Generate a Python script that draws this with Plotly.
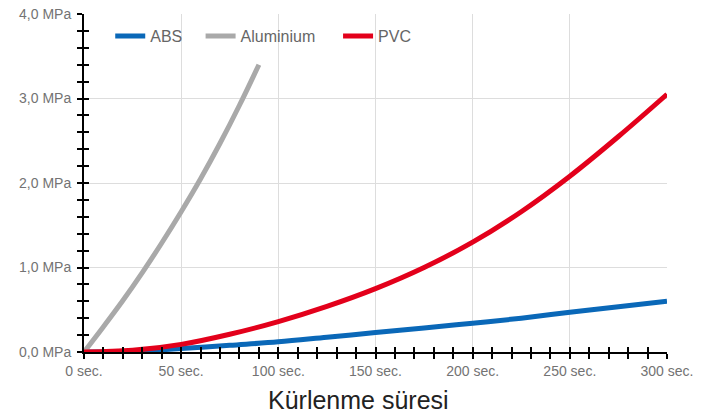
import plotly.graph_objects as go

# Data
t_alu = [0, 10, 20, 30, 40, 50, 60, 70, 80, 90]
alu = [0, 0.30, 0.61, 0.94, 1.29, 1.66, 2.05, 2.47, 2.92, 3.40]

t_long = [0, 25, 50, 75, 100, 125, 150, 175, 200, 225, 250, 275, 300]
pvc = [0, 0.02, 0.09, 0.21, 0.36, 0.54, 0.75, 1.00, 1.30, 1.66, 2.08, 2.55, 3.05]
abs_ = [0, 0.01, 0.04, 0.08, 0.12, 0.175, 0.23, 0.285, 0.34, 0.40, 0.47, 0.535, 0.60]

x_ticks = [0, 50, 100, 150, 200, 250, 300]
x_labels = ["0 sec.", "50 sec.", "100 sec.", "150 sec.", "200 sec.", "250 sec.", "300 sec."]
y_ticks = [0, 1, 2, 3, 4]
y_labels = ["0,0 MPa", "1,0 MPa", "2,0 MPa", "3,0 MPa", "4,0 MPa"]

FONT = "Liberation Sans, Arial, Helvetica, sans-serif"
NB = "\u00a0"

fig = go.Figure()
fig.add_trace(go.Scatter(x=t_long, y=abs_, name="ABS" + NB * 3, mode="lines",
                         line=dict(color="#0A68B8", width=5, shape="spline")))
fig.add_trace(go.Scatter(x=t_alu, y=alu, name="Aluminium" + NB * 4, mode="lines",
                         line=dict(color="#A9A9A9", width=5, shape="spline")))
fig.add_trace(go.Scatter(x=t_long, y=pvc, name="PVC", mode="lines",
                         line=dict(color="#E3001B", width=5, shape="spline")))
# invisible trace for overlay axes (crossing ticks)
fig.add_trace(go.Scatter(x=[0], y=[0], xaxis="x2", yaxis="y2", mode="markers",
                         marker=dict(opacity=0), showlegend=False, hoverinfo="skip"))

axis_common = dict(showline=True, linecolor="black", linewidth=2, automargin=False,
                   tickcolor="black", tickwidth=2, ticklen=5, zeroline=False)

fig.update_layout(
    width=711, height=414,
    margin=dict(l=84, r=44, t=14, b=62),
    paper_bgcolor="white", plot_bgcolor="white",
    font=dict(family=FONT, color="#737373", size=14),
    showlegend=True,
    legend=dict(orientation="h", x=0.045, y=0.985, xanchor="left", yanchor="top",
                bgcolor="rgba(0,0,0,0)", font=dict(size=16, color="#666666"),
                itemwidth=30, tracegroupgap=0),
    xaxis=dict(range=[0, 300], tickvals=x_ticks, ticktext=x_labels,
               ticks="outside", showgrid=True, gridcolor="#DDDDDD", gridwidth=1,
               minor=dict(dtick=10, ticks="outside", ticklen=5, tickwidth=2, tickcolor="black", showgrid=False),
               **axis_common),
    yaxis=dict(range=[0, 4], tickvals=y_ticks, ticktext=y_labels, ticklabelstandoff=3,
               ticks="outside", showgrid=True, gridcolor="#DDDDDD", gridwidth=1,
               minor=dict(dtick=0.2, ticks="outside", ticklen=5, tickwidth=2, tickcolor="black", showgrid=False),
               **axis_common),
    xaxis2=dict(range=[0, 300], overlaying="x", anchor="y2", side="bottom",
                tickvals=x_ticks, showticklabels=False, ticks="inside", showgrid=False,
                minor=dict(dtick=10, ticks="inside", ticklen=5, tickwidth=2, tickcolor="black"),
                **axis_common),
    yaxis2=dict(range=[0, 4], overlaying="y", anchor="x2", side="left",
                tickvals=y_ticks, showticklabels=False, ticks="inside", showgrid=False,
                minor=dict(dtick=0.2, ticks="inside", ticklen=5, tickwidth=2, tickcolor="black"),
                **axis_common),
    annotations=[dict(text="Kürlenme süresi", xref="paper", yref="paper",
                      x=0.47, y=0, xanchor="center", yanchor="middle",
                      yshift=-48, showarrow=False,
                      font=dict(size=25, color="#222222", family=FONT))],
)

fig.write_html("out.html", config={"displayModeBar": False},
               post_script="document.body.style.margin='0';document.body.style.overflow='hidden';")
